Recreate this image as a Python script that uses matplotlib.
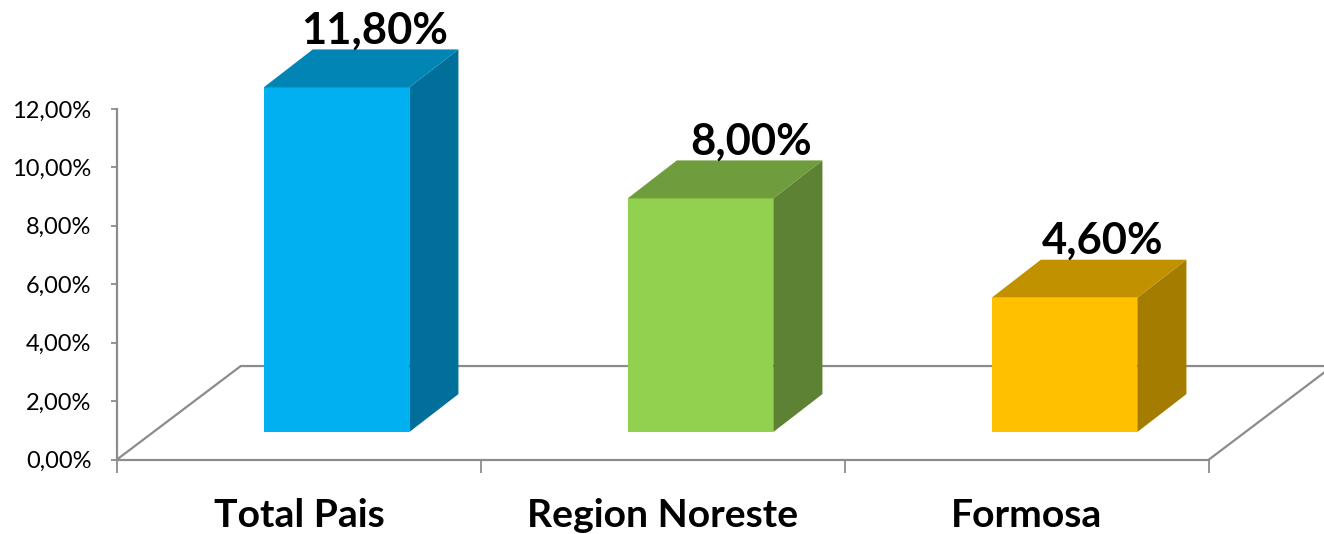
import matplotlib
matplotlib.use('Agg')
import matplotlib.pyplot as plt

categories = ['Total Pais', 'Region Noreste', 'Formosa']
values = [11.8, 8.0, 4.6]
value_labels = ['11,80%', '8,00%', '4,60%']
yticks = [0, 2, 4, 6, 8, 10, 12]
ytick_labels = ['0,00%', '2,00%', '4,00%', '6,00%', '8,00%', '10,00%', '12,00%']

front_colors = ['#00B0F0', '#92D050', '#FFC000']
side_colors = ['#006F99', '#5E8233', '#A47C00']
top_colors = ['#0085B5', '#6F9C3D', '#C19100']

plt.rcParams['font.family'] = ['Lato', 'DejaVu Sans']
W, H = 1324, 534
fig = plt.figure(figsize=(W/100, H/100), dpi=100)
ax = fig.add_axes([117/W, 1-459.5/H, (1209-117)/W, 350.5/H])
ax.set_xlim(0, 3)
ax.set_ylim(0, 12)

# fake 3d geometry, in data units
base = 0.94     # bar floats above the front edge of the floor
left = 0.403    # bar start inside each category
width = 0.4
dx = 0.135      # bar depth
dy = 1.3
floor_dx = 0.34
floor_dy = 3.2
gray = '#8C8C8C'

# floor
ax.plot([0, floor_dx, 3+floor_dx], [0, floor_dy, floor_dy], color=gray, lw=1.6, clip_on=False, zorder=1, solid_joinstyle='miter')
ax.plot([3, 3+floor_dx], [0, floor_dy], color=gray, lw=1.6, clip_on=False, zorder=1)

label_dx = [38, 51, 38]  # px-ish shift from the bar centre
for i, v in enumerate(values):
    x0 = i + left
    x1 = x0 + width
    y1 = base + v
    ax.fill([x0, x1, x1, x0], [base, base, y1, y1], color=front_colors[i], lw=0, clip_on=False, zorder=3)
    ax.fill([x1, x1+dx, x1+dx, x1], [base, base+dy, y1+dy, y1], color=side_colors[i], lw=0, clip_on=False, zorder=3)
    ax.fill([x0, x1, x1+dx, x0+dx], [y1, y1, y1+dy, y1+dy], color=top_colors[i], lw=0, clip_on=False, zorder=3)
    ax.annotate(value_labels[i], xy=((x0+x1)/2, y1+dy), xytext=(label_dx[i]*0.72, 4.2), textcoords='offset points',
                ha='center', va='baseline', fontsize=31.3, fontweight='bold', color='black', annotation_clip=False, zorder=4)

for s in ['top', 'right']:
    ax.spines[s].set_visible(False)
for s in ['left', 'bottom']:
    ax.spines[s].set_color(gray)
    ax.spines[s].set_linewidth(1.6)

ax.set_yticks(yticks)
ax.set_yticklabels(ytick_labels, fontsize=17, color='black')
ax.tick_params(axis='y', length=4.5, width=1.3, color=gray, pad=14)

ax.set_xticks([0, 1, 2, 3])
ax.set_xticklabels([])
ax.tick_params(axis='x', length=9, width=1.3, color=gray)
ax.set_xticks([0.5, 1.5, 2.5], minor=True)
ax.set_xticklabels(categories, minor=True, fontsize=28.2, fontweight='bold')
ax.tick_params(axis='x', which='minor', length=0, pad=28)

fig.savefig('out.png', dpi=100)
